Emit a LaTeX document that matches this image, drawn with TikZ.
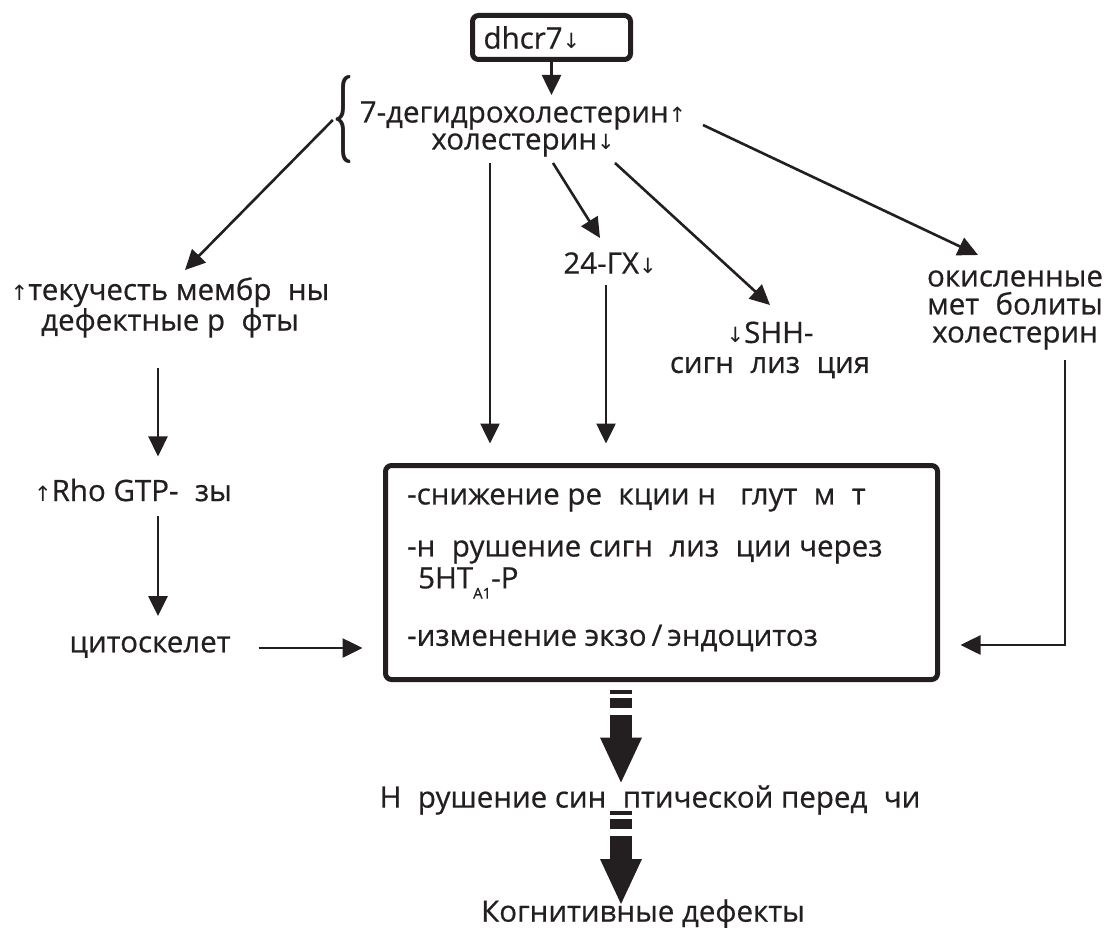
\documentclass[tikz,border=0pt]{standalone}
\usepackage{graphicx}
\usepackage{fontspec}
\newfontfamily\osans[FakeBold=0.6]{Open Sans}
\newfontfamily\arrfont{DejaVu Sans}
\usetikzlibrary{arrows.meta,calc}
\definecolor{ink}{RGB}{35,31,32}
\newcommand\ga{\phantom{а}}
\newcommand\dna{{\arrfont\fontsize{21}{21}\selectfont ↓}}
\newcommand\upa{{\arrfont\fontsize{21}{21}\selectfont ↑}}
\begin{document}
\begin{tikzpicture}[x=1pt,y=-1pt,
  txt/.style={inner sep=0pt, align=center, text=ink, font=\osans\fontsize{29.5}{29}\selectfont},
  arr/.style={draw=ink, line width=2.6pt, -{Triangle[length=20pt,width=19pt]}},
  fat/.style={fill=ink},
  boxst/.style={draw=ink, line width=5pt, rounded corners=6pt},
  pics/fatarrow/.style={code={
    \fill[fat] (-11,5) rectangle (11,9);
    \fill[fat] (-11,13) rectangle (11,23);
    \fill[fat] (-11,30) rectangle (11,53.5);
    \fill[fat] (-21,53) -- (21,53) -- (0,98) -- cycle;
  }}]
\useasboundingbox (0,0) rectangle (1105,928);

% nodes
\node[boxst, txt, minimum width=158pt, minimum height=44pt, text width=136pt,
      inner xsep=11pt, inner ysep=0pt, align=left] (dhcr) at (551.5,37.5) {dhcr7\dna};
\node[txt, font=\osans\fontsize{29.5}{27}\selectfont] (chol) at (523,129) {7-дегидрохолестерин\upa\\холестерин\dna};
\node[inner sep=0pt, text=ink] (br) at (343,120) {\resizebox{20pt}{66pt}{\rmfamily\bfseries\{}};
\node[txt] (memb) at (170,307.5) {\upa текучесть мембр\ga ны\\дефектные р\ga фты};
\node[txt] (rho) at (133,490) {\upa Rho GTP-\ga зы};
\node[txt] (cyto) at (150,647) {цитоскелет};
\node[txt] (gx) at (610,263) {24-ГХ\dna};
\node[txt, font=\osans\fontsize{29.5}{30}\selectfont] (shh) at (770,350) {\dna SHH-\\сигн\ga лиз\ga ция};
\node[txt, font=\osans\fontsize{29.5}{28}\selectfont] (oxy) at (1015,310) {окисленные\\мет\ga болиты\\холестерин};
\node[boxst, minimum width=552pt, minimum height=214pt] (mainbox) at (661.5,572.5) {};
\node[txt, anchor=west] (l1) at (407,500) {-снижение ре\ga кции н\ga{} глут\ga м\ga т};
\node[txt, anchor=west] (l2) at (407,552) {-н\ga рушение сигн\ga лиз\ga ции через};
\node[txt, anchor=west] (l3) at (418,583) {5HT\raisebox{-0.35em}{\fontsize{15}{15}\selectfont A1}-Р};
\node[txt, anchor=west] (l4) at (407,638) {-изменение экзо\,/\,эндоцитоз};
\node[txt] (synap) at (650,800) {Н\ga рушение син\ga птической перед\ga чи};
\node[txt] (cogn) at (643,914) {Когнитивные дефекты};

% connector end points
\coordinate (s1) at (490,163);
\coordinate (s2) at (553,163);
\coordinate (s3) at (615,163);
\coordinate (s4) at (703,125);
\coordinate (tm) at (185,270);
\coordinate (tg) at (600,238);
\coordinate (ts) at (770,305);
\coordinate (to) at (978,255);
\coordinate (lc) at (158,0);
\coordinate (o1) at (1065,360);

% connectors
\draw[arr] (dhcr.south) -- (dhcr.south |- 0,95);
\draw[arr] (br.west) -- (tm);
\draw[arr] (s1) -- ($(s1 |- mainbox.north)+(0,-19.5)$);
\draw[arr] (s2) -- (tg);
\draw[arr] (606,285) -- ($(606,0 |- mainbox.north)+(0,-19.5)$);
\draw[arr] (s3) -- (ts);
\draw[arr] (s4) -- (to);
\draw[arr] (memb.south -| lc) ++(0,30) -- ($(rho.north -| lc)+(0,-22)$);
\draw[arr] ($(rho.south -| lc)+(0,14)$) -- ($(cyto.north -| lc)+(0,-20)$);
\draw[arr] ($(cyto.east)+(28,1)$) -- ($(mainbox.west |- cyto.east)+(-20.5,1)$);
\draw[arr] (o1) |- ($(mainbox.east)+(20.5,72.5)$);

% fat arrows
\pic at ($(mainbox.south)+(-40.5,2.5)$) {fatarrow};
\pic at (621,806) {fatarrow};
\end{tikzpicture}
\end{document}
